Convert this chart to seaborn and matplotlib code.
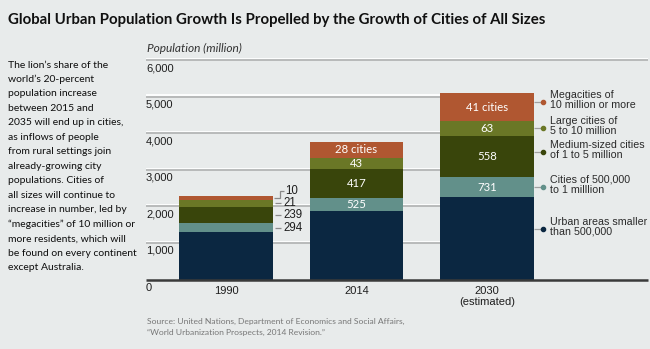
import matplotlib
matplotlib.use("Agg")
import matplotlib.pyplot as plt
import matplotlib.patheffects as pe
import numpy as np
import pandas as pd
import seaborn as sns

# ---- data -------------------------------------------------------------
years = ["1990", "2014", "2030"]
year_labels = ["1990", "2014", "2030\n(estimated)"]
categories = [
    "Megacities of\n10 million or more",
    "Large cities of\n5 to 10 million",
    "Medium-sized cities\nof 1 to 5 million",
    "Cities of 500,000\nto 1 milllion",
    "Urban areas smaller\nthan 500,000",
]
# population (million) by city-size class, stacked bottom to top:
pop_small = [1290, 1880, 2246]
pop_500k = [245, 360, 546]
pop_medium = [455, 780, 1129]
pop_large = [183, 310, 410]
pop_mega = [118, 435, 756]
# number of cities in each class
count_500k = [294, 525, 731]
count_medium = [239, 417, 558]
count_large = [21, 43, 63]
count_mega = [10, 28, 41]
y_ticks = [0, 1000, 2000, 3000, 4000, 5000, 6000]

title = "Global Urban Population Growth Is Propelled by the Growth of Cities of All Sizes"
note_lines = [
    "The lion\u2019s share of the",
    "world\u2019s 20-percent",
    "population increase",
    "between 2015 and",
    "2035 will end up in cities,",
    "as inflows of people",
    "from rural settings join",
    "already-growing city",
    "populations. Cities of",
    "all sizes will continue to",
    "increase in number, led by",
    "\u201cmegacities\u201d of 10 million or",
    "more residents, which will",
    "be found on every continent",
    "except Australia.",
]
source_lines = [
    "Source: United Nations, Department of Economics and Social Affairs,",
    "\u201cWorld Urbanization Prospects, 2014 Revision.\u201d",
]

# ---- style ------------------------------------------------------------
colors = ["#B05731", "#6A7726", "#39450B", "#62908A", "#0B2741"]
BG = "#E8EBEB"
W, H = 650, 349
BAR_W = 0.715

sns.set_theme(style="white")
plt.rcParams["font.family"] = ["Liberation Sans", "DejaVu Sans"]

fig = plt.figure(figsize=(W / 100, H / 100), dpi=100, facecolor=BG)


def fx(px):
    return px / W


def fy(py):
    return 1 - py / H


# axes placement (pixels): left 146, right 648, y=0 at 279.5, y=6000 at 60
ax = fig.add_axes([fx(146), fy(279.5), fx(648) - fx(146), (279.5 - 60) / H])
ax.set_facecolor("none")

stack_order = [pop_mega, pop_large, pop_medium, pop_500k, pop_small]
rows = []
for cat, vals in zip(categories, stack_order):
    for i, v in enumerate(vals):
        rows.append({"x": i, "pop": v, "size": cat})
df = pd.DataFrame(rows)

sns.histplot(
    data=df, x="x", weights="pop", hue="size", hue_order=categories,
    multiple="stack", discrete=True, shrink=BAR_W, palette=colors,
    linewidth=0, alpha=1, legend=False, ax=ax, zorder=3,
)

x_left, x_right = -0.613, 3.234
ax.set_xlim(x_left, x_right)
ax.set_ylim(0, 6000)
for s in ax.spines.values():
    s.set_visible(False)
ax.set_xticks([])
ax.set_yticks([])
ax.set_xlabel("")
ax.set_ylabel("")

# gridlines with a light emboss
emboss = [pe.SimpleLineShadow(offset=(0, 0.9), shadow_color="white", alpha=1), pe.Normal()]
bar_right = 2 + BAR_W / 2
for t in y_ticks[1:-1]:
    ax.plot([x_left, bar_right], [t, t], color="#B3B5B5", lw=1.3, zorder=1,
            path_effects=emboss, solid_capstyle="butt")
ax.plot([x_left, x_right], [6000, 6000], color="#B3B5B5", lw=1.3, zorder=1,
        path_effects=emboss, clip_on=False, solid_capstyle="butt")
ax.plot([x_left, x_right], [0, 0], color="#3A3A3A", lw=1.8, zorder=4,
        clip_on=False, solid_capstyle="butt")

# y tick labels sit just below their gridlines
for t in y_ticks:
    ax.annotate(f"{t:,}", xy=(0, t), xycoords=("axes fraction", "data"),
                xytext=(0, -2.2), textcoords="offset points", ha="left", va="top",
                fontsize=8, color="#1E1E1E")

# category labels
for i, lab in enumerate(year_labels):
    ax.annotate(lab, xy=(i, 0), xycoords="data", xytext=(0, -5),
                textcoords="offset points", ha="center", va="top",
                fontsize=8, color="#1E1E1E", linespacing=1.05)

# bottoms and centres of each stacked segment
bottom_up = [pop_small, pop_500k, pop_medium, pop_large, pop_mega]
counts_up = [None, count_500k, count_medium, count_large, count_mega]
cum = np.zeros(3)
centres = []
for vals in bottom_up:
    v = np.array(vals, dtype=float)
    centres.append(cum + v / 2)
    cum = cum + v
totals = cum

# counts written inside the 2014 and 2030 bars
lato = ["Lato", "DejaVu Sans"]
for level in range(1, 5):
    for i in (1, 2):
        n = counts_up[level][i]
        txt = f"{n} cities" if level == 4 else f"{n}"
        ax.text(i, centres[level][i], txt, ha="center", va="center",
                color="white", fontsize=8.2, family=lato, zorder=5)

# counts beside the narrow 1990 segments
px_per_x = 130.5
b_edge = BAR_W / 2
for level in (1, 2, 3):
    yc = centres[level][0]
    ax.plot([b_edge + 2.5 / px_per_x, b_edge + 8.5 / px_per_x], [yc, yc],
            color="#8A8A8A", lw=0.9, zorder=5, solid_capstyle="butt")
    ax.text(b_edge + 10.5 / px_per_x, yc, f"{counts_up[level][0]}", ha="left",
            va="center", fontsize=8.3, color="#1E1E1E")
yc = centres[4][0]
y_up = yc + 6.5 / 36.58 * 1000
xs = [b_edge + 1.5 / px_per_x, b_edge + 7.5 / px_per_x, b_edge + 7.5 / px_per_x, b_edge + 11.5 / px_per_x]
ax.plot(xs, [yc, yc, y_up, y_up], color="#8A8A8A", lw=0.9, zorder=5,
        solid_capstyle="butt", solid_joinstyle="miter")
ax.text(b_edge + 12.5 / px_per_x, y_up, f"{count_mega[0]}", ha="left",
        va="center", fontsize=8.3, color="#1E1E1E")

# right-hand key with leader lines from the 2030 bar
key_y = [4852, 4150, 3477, 2537, 1380]
for cat, col, ky in zip(categories, colors, key_y):
    ax.plot([bar_right, bar_right + 7 / px_per_x], [ky, ky], color="#A0A0A0",
            lw=0.9, zorder=2, solid_capstyle="butt")
    ax.plot([bar_right + 9.5 / px_per_x], [ky], "o", ms=3, color=col, zorder=5,
            clip_on=False)
    ax.text(bar_right + 16 / px_per_x, ky + 2 / 36.58 * 1000, cat, ha="left",
            va="center", fontsize=7.7, color="#2A2A2A", linespacing=0.98)

# header, notes and source
fig.text(fx(8), fy(20), title, ha="left", va="center", fontsize=10.8,
         fontweight="bold", family=lato, color="#111111")
fig.text(fx(147), fy(48), "Population (million)", ha="left", va="center",
         fontsize=8.6, style="italic", family=lato, color="#333333")
for k, line in enumerate(note_lines):
    fig.text(fx(8), fy(65 + 14.48 * k), line, ha="left", va="center",
             fontsize=7.5, family=lato, color="#0E0E0E")
for k, line in enumerate(source_lines):
    fig.text(fx(147), fy(321.5 + 11 * k), line, ha="left", va="center",
             fontsize=6.1, family=lato, color="#777777")

fig.savefig("out.png", dpi=100, facecolor=BG)
